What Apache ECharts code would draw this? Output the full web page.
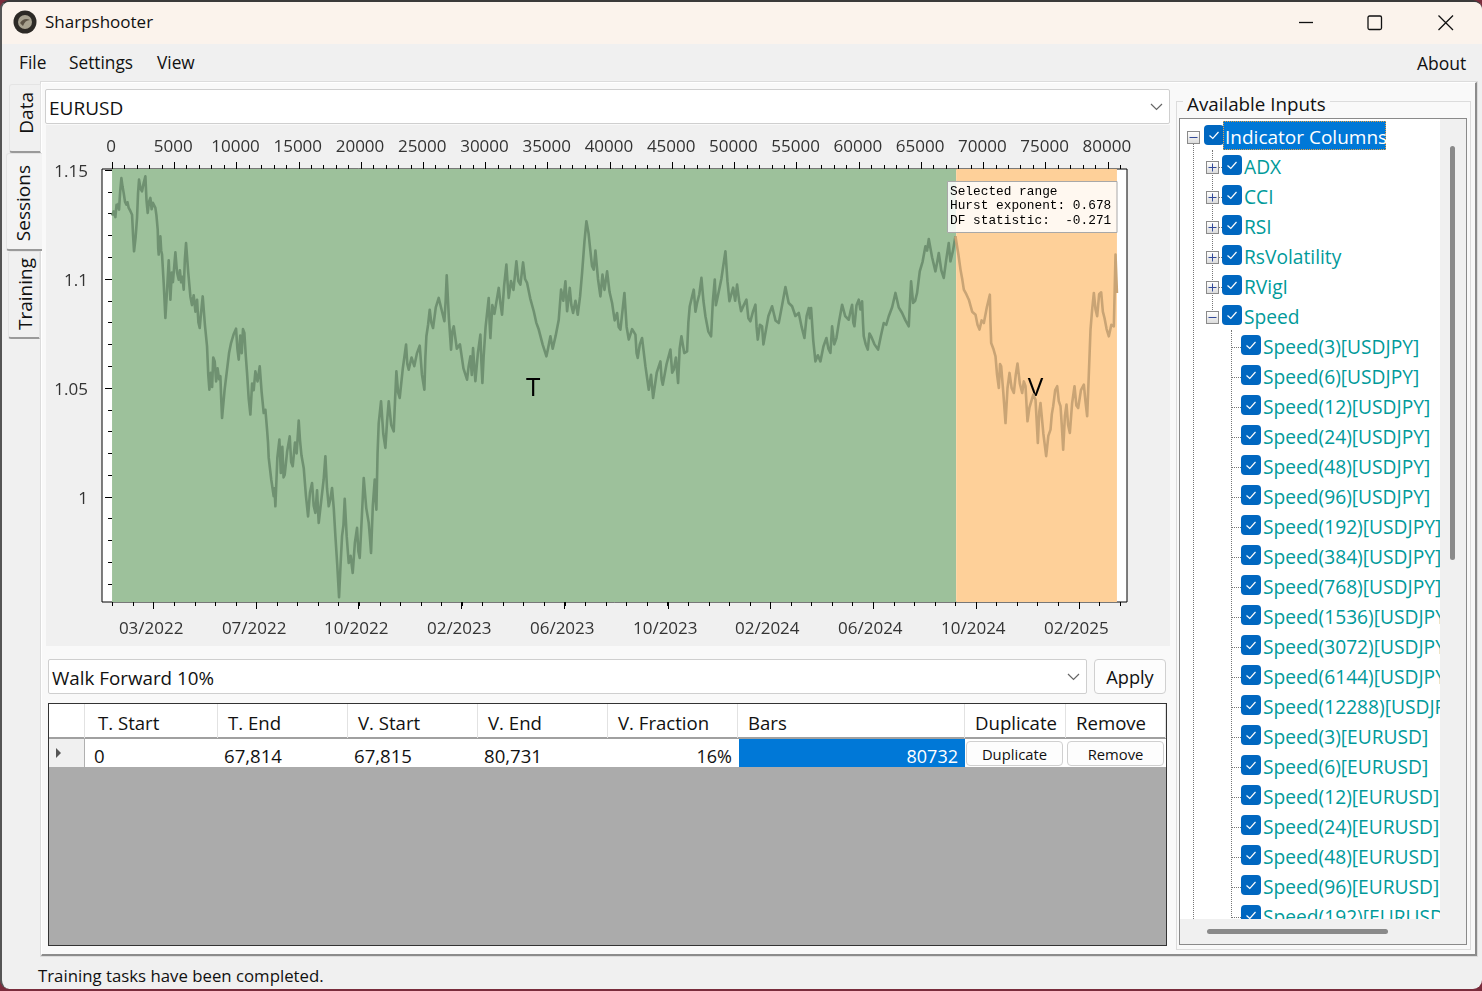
<!DOCTYPE html>
<html>
<head>
<meta charset="utf-8">
<title>Sharpshooter</title>
<script src="https://cdn.jsdelivr.net/npm/echarts@6/dist/echarts.min.js"></script>
<style>
  html, body { margin: 0; padding: 0; background: #7a2c3c; }
  body { width: 1482px; height: 991px; overflow: hidden; position: relative; font-family: "Open Sans", sans-serif; color: #111; }
  .box { position: absolute; box-sizing: border-box; }
  .t { position: absolute; white-space: nowrap; line-height: 30px; height: 30px; margin-top: -15px; }
  #win { left: 0; top: 0; width: 1482px; height: 989px; background: #f0f0f0; border-radius: 9px; border-top: 2px solid #3a3a3a; border-left: 2px solid #555; overflow: hidden; }
  .tab { background: #f0f0f0; border: 1px solid #e4e4e4; border-bottom: 2px solid #9a9a9a; border-radius: 3px 0 0 3px; }
  .vtext { position: absolute; writing-mode: vertical-rl; transform: rotate(180deg); font-size: 19px; white-space: nowrap; line-height: 24px; }
  .combo { background: #fff; border: 1px solid #cfcfcf; border-radius: 2px; }
  .btn { background: #fdfdfd; border: 1px solid #d0d0d0; border-radius: 4px; text-align: center; }
  .th { position: absolute; top: 0; height: 34px; line-height: 38px; font-size: 18.6px; box-sizing: border-box; padding-left: 10px; border-right: 1px solid #e2e2e2; }
  .td { position: absolute; top: 35px; height: 29px; line-height: 34px; font-size: 18.6px; box-sizing: border-box; }
  .chk { position: absolute; width: 20px; height: 20px; border-radius: 4px; background: #0067c0; }
  .exp { position: absolute; width: 11px; height: 11px; border: 1px solid #8a8a8a; background: linear-gradient(#fff, #dcdcdc); box-sizing: content-box; }
  .node { position: absolute; white-space: nowrap; font-size: 19.2px; line-height: 30px; height: 30px; color: #009a9a; }
  .dot-v { position: absolute; width: 0; border-left: 1px dotted #777; }
  .dot-h { position: absolute; height: 0; border-top: 1px dotted #777; }
</style>
</head>
<body>
<div id="win" class="box"></div>

<!-- title bar -->
<div class="box" style="left:2px;top:2px;width:1480px;height:42px;background:#fbf3ec;border-radius:8px 8px 0 0"></div>
<svg class="box" style="left:12px;top:9px" width="26" height="26"><circle cx="13" cy="13" r="11.5" fill="#2d2a26"/><circle cx="13" cy="13" r="7" fill="#a8a290"/><path d="M8 14 Q12 8 18 11 Q13 11 11 17 Z" fill="#5b5245"/></svg>
<div class="t" style="left:45px;top:22px;font-size:17px">Sharpshooter</div>
<svg class="box" style="left:1290px;top:8px" width="180" height="30" fill="none" stroke="#111" stroke-width="1.3">
  <path d="M9 14.5 H23"/><rect x="78" y="8" width="13.5" height="13.5" rx="1.5"/><path d="M148.5 7.5 L163 22 M163 7.5 L148.5 22"/>
</svg>

<!-- menu bar -->
<div class="t" style="left:19px;top:62.5px;font-size:17.3px">File</div>
<div class="t" style="left:69px;top:62.5px;font-size:17.3px">Settings</div>
<div class="t" style="left:157px;top:62.5px;font-size:17.3px">View</div>
<div class="t" style="left:1417px;top:62.5px;font-size:17.5px">About</div>

<!-- main panel -->
<div class="box" style="left:41px;top:82px;width:1436px;height:874px;background:#f9f9f9;border:1px solid #fff;border-right:2px solid #8c8c8c;border-bottom:2px solid #8c8c8c;outline:1px solid #dcdcdc"></div>

<!-- side tabs -->
<div class="box tab" style="left:9px;top:84px;width:32px;height:69px"></div>
<div class="box tab" style="left:6px;top:153px;width:36px;height:98px;background:#f3f3f3;border-right:none"></div>
<div class="box tab" style="left:8px;top:251px;width:32px;height:88px"></div>
<div class="vtext" style="left:14px;top:92px">Data</div>
<div class="vtext" style="left:11px;top:165px">Sessions</div>
<div class="vtext" style="left:13px;top:258px">Training</div>

<!-- symbol combo -->
<div class="box combo" style="left:45px;top:89px;width:1125px;height:35px"></div>
<div class="t" style="left:49px;top:108px;font-size:19px">EURUSD</div>
<svg class="box" style="left:1150px;top:102px" width="14" height="10" fill="none" stroke="#666" stroke-width="1.2"><path d="M1 2 L6.5 7.5 L12 2"/></svg>

<!-- chart -->
<div class="box" id="chart" style="left:46px;top:125px;width:1124px;height:521px;background:#f0f0f0"></div>

<!-- split scheme combo -->
<div class="box combo" style="left:48px;top:659px;width:1039px;height:35px"></div>
<div class="t" style="left:52px;top:678px;font-size:18.8px">Walk Forward 10%</div>
<svg class="box" style="left:1067px;top:672px" width="14" height="10" fill="none" stroke="#666" stroke-width="1.2"><path d="M1 2 L6.5 7.5 L12 2"/></svg>
<div class="box btn" style="left:1094px;top:659px;width:72px;height:35px;line-height:35px;font-size:18.2px">Apply</div>

<!-- splits table -->
<div class="box" id="table" style="left:48px;top:703px;width:1119px;height:243px;background:#ababab;border:1px solid #333"></div>

<!-- inputs tree -->
<div class="box" style="left:1176px;top:101px;width:295px;height:849px;border:1px solid #dcdcdc"></div>
<div class="t" style="left:1183px;top:104px;font-size:18.8px;background:#f9f9f9;padding:0 4px;height:20px;line-height:20px;margin-top:-10px">Available Inputs</div>
<div class="box" style="left:1179px;top:118px;width:288px;height:827px;border:1px solid #8a8a8a;background:#f0f0f0"></div>
<div class="box" id="tree" style="left:1180px;top:119px;width:260px;height:800px;background:#fff;overflow:hidden"></div>
<div class="box" style="left:1450px;top:146px;width:5px;height:414px;background:#8a8a8a;border-radius:3px"></div>
<div class="box" style="left:1207px;top:929px;width:181px;height:5px;background:#8a8a8a;border-radius:3px"></div>

<!-- status bar -->
<div class="t" style="left:38px;top:976px;font-size:16.8px">Training tasks have been completed.</div>

<script>
// [bar, close] samples of the EURUSD line
const closes = [
[0,1.1291],[130,1.1310],[268,1.1284],[360,1.1340],[455,1.1326],[510,1.1345],[562,1.1318],[650,1.1400],[750,1.1463],[840,1.1425],[937,1.1394],[1040,1.1355],[1152,1.1341],[1240,1.1352],[1339,1.1326],[1470,1.1312],[1607,1.1295],[1690,1.1200],[1767,1.1127],[1890,1.1190],[2008,1.1280],[2090,1.1395],[2169,1.1456],[2290,1.1415],[2410,1.1402],[2540,1.1440],[2678,1.1471],[2770,1.1360],[2865,1.1303],[2970,1.1355],[3080,1.1372],[3180,1.1320],[3280,1.1350],[3390,1.1345],[3481,1.1326],[3570,1.1290],[3669,1.1226],[3710,1.1140],[3749,1.1112],[3810,1.1180],[3883,1.1196],[3950,1.1130],[4017,1.1112],[4150,1.0980],[4285,1.0821],[4420,1.0950],[4553,1.1086],[4620,1.1000],[4686,1.0905],[4800,1.1030],[4890,1.0985],[5088,1.1122],[5220,1.1030],[5356,1.0997],[5450,1.1040],[5550,1.0985],[5650,1.1010],[5758,1.0951],[5850,1.1090],[5945,1.1165],[6120,1.1030],[6293,1.0920],[6420,1.0880],[6560,1.0925],[6700,1.0850],[6829,1.0905],[6940,1.0800],[7043,1.0775],[7160,1.0850],[7284,1.0920],[7460,1.0790],[7632,1.0691],[7730,1.0560],[7820,1.0492],[7930,1.0570],[8040,1.0505],[8130,1.0640],[8248,1.0622],[8360,1.0530],[8480,1.0590],[8600,1.0540],[8704,1.0554],[8770,1.0450],[8837,1.0362],[9040,1.0490],[9239,1.0584],[9400,1.0660],[9560,1.0706],[9760,1.0745],[9962,1.0772],[10070,1.0680],[10176,1.0630],[10300,1.0740],[10420,1.0660],[10520,1.0770],[10632,1.0752],[10740,1.0650],[10846,1.0569],[10980,1.0450],[11114,1.0378],[11250,1.0520],[11380,1.0490],[11515,1.0576],[11690,1.0530],[11864,1.0599],[12020,1.0480],[12185,1.0385],[12320,1.0400],[12453,1.0309],[12530,1.0250],[12587,1.0179],[12790,1.0080],[12988,1.0003],[13050,1.0040],[13122,0.9957],[13280,1.0180],[13444,1.0263],[13560,1.0110],[13680,1.0230],[13780,1.0090],[13872,1.0102],[14070,1.0210],[14274,1.0278],[14390,1.0160],[14515,1.0141],[14700,1.0250],[14830,1.0200],[14997,1.0350],[15100,1.0260],[15220,1.0190],[15399,1.0133],[15570,1.0010],[15747,0.9911],[15900,1.0020],[16068,1.0064],[16200,0.9960],[16336,0.9927],[16470,1.0030],[16604,0.9881],[16740,0.9950],[16871,0.9957],[17000,1.0080],[17139,1.0187],[17270,1.0040],[17407,0.9957],[17540,0.9990],[17675,1.0041],[17810,0.9950],[17943,0.9820],[18090,0.9690],[18237,0.9540],[18360,0.9690],[18478,0.9820],[18590,0.9870],[18692,0.9991],[18850,0.9820],[19014,0.9697],[19170,0.9730],[19335,0.9651],[19510,0.9790],[19683,0.9858],[19790,0.9750],[19898,0.9720],[20060,0.9900],[20219,1.0087],[20420,0.9950],[20621,0.9881],[20710,0.9820],[20808,0.9743],[20950,0.9960],[21103,1.0080],[21170,0.9990],[21237,0.9942],[21330,1.0200],[21424,1.0339],[21611,1.0439],[21790,1.0290],[21959,1.0225],[22100,1.0350],[22227,1.0439],[22430,1.0330],[22629,1.0301],[22740,1.0450],[22843,1.0576],[22980,1.0480],[23111,1.0454],[23360,1.0590],[23620,1.0699],[23720,1.0610],[23834,1.0584],[24060,1.0640],[24280,1.0600],[24500,1.0660],[24718,1.0694],[24900,1.0560],[25093,1.0492],[25170,1.0640],[25254,1.0737],[25390,1.0790],[25521,1.0859],[25650,1.0800],[25789,1.0775],[26010,1.0870],[26244,1.0913],[26470,1.0860],[26700,1.0806],[26800,1.0900],[26887,1.1017],[27060,1.0820],[27235,1.0676],[27340,1.0760],[27450,1.0783],[27700,1.0680],[27950,1.0700],[28230,1.0590],[28521,1.0538],[28650,1.0600],[28789,1.0645],[28900,1.0560],[29003,1.0683],[29100,1.0600],[29190,1.0531],[29390,1.0660],[29592,1.0745],[29670,1.0620],[29753,1.0523],[29850,1.0640],[30010,1.0780],[30261,1.0913],[30330,1.0800],[30395,1.0729],[30550,1.0880],[30720,1.0840],[31065,1.0959],[31200,1.0890],[31332,1.0836],[31500,1.0970],[31680,1.1066],[31780,1.0980],[31868,1.0913],[32050,1.0990],[32250,1.0950],[32484,1.1081],[32640,1.0990],[32805,1.0974],[33022,1.1076],[33180,1.1000],[33343,1.0982],[33600,1.0910],[33879,1.0852],[34080,1.0800],[34281,1.0768],[34590,1.0700],[34897,1.0645],[35060,1.0690],[35218,1.0737],[35400,1.0680],[35640,1.0740],[35887,1.0813],[36075,1.0951],[36250,1.0900],[36423,1.0989],[36557,1.0852],[36771,1.0959],[36900,1.0880],[37039,1.0844],[37230,1.0900],[37414,1.0836],[37600,1.0920],[37762,1.1028],[37950,1.1170],[38110,1.1265],[38280,1.1210],[38432,1.1127],[38560,1.1060],[38699,1.1043],[38833,1.1131],[39040,1.1000],[39235,1.0920],[39400,1.1020],[39560,1.0950],[39771,1.1035],[39970,1.0940],[40172,1.0890],[40380,1.0810],[40574,1.0844],[40700,1.0780],[40842,1.0768],[41000,1.0850],[41163,1.0936],[41340,1.0780],[41511,1.0722],[41780,1.0770],[42047,1.0745],[42140,1.0660],[42234,1.0638],[42400,1.0700],[42582,1.0729],[42850,1.0600],[43118,1.0492],[43300,1.0560],[43466,1.0454],[43760,1.0570],[44055,1.0622],[44150,1.0540],[44243,1.0515],[44550,1.0610],[44859,1.0676],[45000,1.0570],[45127,1.0584],[45300,1.0640],[45475,1.0523],[45600,1.0680],[45743,1.0737],[45970,1.0660],[46198,1.0668],[46300,1.0800],[46412,1.0875],[46570,1.0870],[46733,1.0951],[46870,1.0850],[47001,1.0890],[47180,1.0930],[47349,1.1005],[47510,1.0900],[47671,1.0829],[47900,1.0760],[48126,1.0737],[48270,1.0900],[48421,1.0997],[48510,1.0880],[48608,1.0905],[48950,1.1000],[49278,1.1127],[49440,1.0990],[49599,1.0898],[49900,1.0960],[50060,1.0900],[50215,1.0974],[50380,1.0900],[50536,1.0852],[50750,1.0880],[50965,1.0905],[51120,1.0820],[51286,1.0806],[51490,1.0850],[51688,1.0882],[51780,1.0780],[51875,1.0722],[52050,1.0790],[52223,1.0783],[52330,1.0700],[52437,1.0706],[52730,1.0830],[53027,1.0875],[53300,1.0810],[53562,1.0798],[53830,1.0880],[54098,1.0963],[54360,1.0890],[54633,1.0875],[54900,1.0830],[55169,1.0844],[55400,1.0780],[55624,1.0729],[55800,1.0830],[55973,1.0867],[56060,1.0820],[56160,1.0867],[56330,1.0720],[56508,1.0622],[56700,1.0650],[56910,1.0622],[57150,1.0690],[57392,1.0729],[57550,1.0680],[57713,1.0661],[57847,1.0783],[58020,1.0700],[58195,1.0729],[58420,1.0810],[58651,1.0882],[58900,1.0830],[59186,1.0813],[59320,1.0850],[59454,1.0882],[59550,1.0800],[59642,1.0783],[59810,1.0880],[59990,1.0905],[60120,1.0860],[60257,1.0898],[60330,1.0800],[60391,1.0737],[60550,1.0700],[60713,1.0676],[60850,1.0750],[60981,1.0737],[61250,1.0700],[61543,1.0676],[61770,1.0740],[61998,1.0798],[62200,1.0790],[62400,1.0829],[62670,1.0870],[62936,1.0936],[63200,1.0870],[63471,1.0844],[63740,1.0810],[64007,1.0783],[64100,1.0890],[64194,1.0989],[64355,1.0890],[64520,1.0900],[64676,1.0936],[64890,1.1035],[65120,1.1080],[65345,1.1150],[65480,1.1130],[65613,1.1183],[65880,1.1100],[66149,1.1035],[66300,1.1080],[66417,1.1119],[66620,1.1040],[66818,1.1005],[67020,1.1090],[67220,1.1165],[67354,1.1081],[67560,1.1130],[67756,1.1196],
[67842,1.1196],[68000,1.1110],[68163,1.1043],[68300,1.1000],[68431,1.0951],[68630,1.0930],[68833,1.0905],[69100,1.0850],[69369,1.0836],[69530,1.0790],[69690,1.0768],[69860,1.0810],[70038,1.0798],[70280,1.0870],[70520,1.0928],[70570,1.0800],[70627,1.0706],[70800,1.0680],[70975,1.0645],[71100,1.0560],[71243,1.0500],[71340,1.0610],[71431,1.0599],[71600,1.0480],[71779,1.0339],[71940,1.0500],[72100,1.0569],[72270,1.0500],[72448,1.0477],[72600,1.0560],[72743,1.0612],[72930,1.0520],[73118,1.0477],[73250,1.0530],[73386,1.0508],[73470,1.0420],[73546,1.0347],[73700,1.0410],[73841,1.0401],[74010,1.0470],[74189,1.0446],[74290,1.0340],[74376,1.0248],[74490,1.0390],[74591,1.0431],[74820,1.0290],[75046,1.0187],[75220,1.0280],[75394,1.0309],[75500,1.0380],[75608,1.0416],[75770,1.0490],[75930,1.0508],[76060,1.0440],[76198,1.0416],[76310,1.0320],[76412,1.0217],[76550,1.0370],[76680,1.0424],[76810,1.0330],[76947,1.0294],[77130,1.0430],[77322,1.0508],[77470,1.0420],[77617,1.0408],[77840,1.0490],[78072,1.0515],[78200,1.0440],[78340,1.0370],[78470,1.0560],[78608,1.0768],[78740,1.0860],[78876,1.0936],[79010,1.0860],[79143,1.0829],[79300,1.0930],[79465,1.0939],[79600,1.0850],[79732,1.0821],[79900,1.0770],[80080,1.0737],[80280,1.0790],[80482,1.0783],[80550,1.0950],[80616,1.1112],[80731,1.0936]
];

const trainRange = [0, 67814];
const validRange = [67815, 80731];

const barTicks = [0,5000,10000,15000,20000,25000,30000,35000,40000,45000,50000,55000,60000,65000,70000,75000,80000];
const priceTicks = [1, 1.05, 1.1, 1.15];
const dateTicks = [3343,11619,19815,28092,36368,44644,52840,61117,69393,77669];
const dateLabels = ['03/2022','07/2022','10/2022','02/2023','06/2023','10/2023','02/2024','06/2024','10/2024','02/2025'];

const barMin = -807, barMax = 81539;
const priceMin = 0.9518, priceMax = 1.15046;

// minor ticks, the plot has 5 subdivisions between labelled ticks
const minorBars = [];
barTicks.forEach(v => { for (let i = 1; i < 5; i++) if (v + i * 1000 < barMax) minorBars.push(v + i * 1000); });
const minorPrices = [0.96,0.97,0.98,0.99,1.01,1.02,1.03,1.04,1.06,1.07,1.08,1.09,1.11,1.12,1.13,1.14];
const minorDates = [];
const dateStep = (dateTicks[9] - dateTicks[0]) / 45;
for (let v = dateTicks[0] - 2 * dateStep; v < barMax; v += dateStep) minorDates.push(Math.round(v));

const axisLine = { show: false };
const black = { color: '#000', width: 1 };
const labelStyle = { color: '#333', fontFamily: 'Open Sans', fontSize: 17 };

const chart = echarts.init(document.getElementById('chart'));

const trainLine = [], validLine = [];
closes.forEach(c => {
  if (c[0] <= trainRange[1]) trainLine.push(c);
  else {
    if (!validLine.length) validLine.push(trainLine[trainLine.length - 1]);
    validLine.push(c);
  }
});

const rangeLabel = text => ({
  show: true, position: 'inside', formatter: text, color: '#000', fontFamily: 'Open Sans', fontSize: 26, offset: [-1, 3]
});

chart.setOption({
  animation: false,
  grid: { left: 56, top: 44, width: 1025, height: 433, show: true, backgroundColor: '#fff', borderColor: '#000', borderWidth: 1 },
  xAxis: [
    { type: 'value', position: 'bottom', min: barMin, max: barMax, splitLine: { show: false }, axisLine,
      axisTick: { customValues: dateTicks, length: 7, lineStyle: black },
      axisLabel: { customValues: dateTicks, margin: 19, padding: [0, 5, 0, 0], ...labelStyle, formatter: v => dateLabels[dateTicks.indexOf(v)] } },
    { type: 'value', position: 'bottom', min: barMin, max: barMax, splitLine: { show: false }, axisLine,
      axisTick: { customValues: minorDates, length: 4, lineStyle: black }, axisLabel: { show: false } },
    { type: 'value', position: 'top', min: barMin, max: barMax, splitLine: { show: false }, axisLine,
      axisTick: { customValues: barTicks, length: 7, lineStyle: black },
      axisLabel: { customValues: barTicks, margin: 13, padding: [0, 2, 0, 0], ...labelStyle, formatter: v => String(v) } },
    { type: 'value', position: 'top', min: barMin, max: barMax, splitLine: { show: false }, axisLine,
      axisTick: { customValues: minorBars, length: 4, lineStyle: black }, axisLabel: { show: false } }
  ],
  yAxis: [
    { type: 'value', position: 'left', min: priceMin, max: priceMax, splitLine: { show: false }, axisLine,
      axisTick: { customValues: priceTicks, length: 7, lineStyle: black },
      axisLabel: { customValues: priceTicks, margin: 14, verticalAlign: 'top', lineHeight: 5, ...labelStyle } },
    { type: 'value', position: 'left', min: priceMin, max: priceMax, splitLine: { show: false }, axisLine,
      axisTick: { customValues: minorPrices, length: 4, lineStyle: black }, axisLabel: { show: false } }
  ],
  series: [
    { type: 'line', name: 'Train', data: trainLine, showSymbol: false, silent: true,
      lineStyle: { color: '#6f9171', width: 2.6, join: 'round' },
      markArea: { silent: true, itemStyle: { color: '#9dc19b', opacity: 1 }, label: rangeLabel('T'),
        data: [[{ xAxis: trainRange[0] }, { xAxis: trainRange[1] }]] } },
    { type: 'line', name: 'Validation', data: validLine, showSymbol: false, silent: true,
      lineStyle: { color: '#c9a475', width: 2.6, join: 'round' },
      markArea: { silent: true, itemStyle: { color: '#fed099', opacity: 1 }, label: rangeLabel('V'),
        data: [[{ xAxis: validRange[0] }, { xAxis: validRange[1] }]] } }
  ],
  graphic: [
    { type: 'rect', left: 901, top: 56, z: 100, shape: { width: 169.5, height: 51 },
      style: { fill: 'rgba(255,255,255,0.85)', stroke: '#a8a8a8', lineWidth: 1 } },
    { type: 'text', left: 904, top: 59, z: 101, style: { text: 'Selected range\nHurst exponent: 0.678\nDF statistic:  -0.271',
      font: '12.8px "Liberation Mono"', lineHeight: 14.7, fill: '#000' } }
  ]
});

// table and tree are plain DOM
const table = document.getElementById('table');
const columns = [['', 0, 36], ['T. Start', 36, 133], ['T. End', 169, 130], ['V. Start', 299, 130], ['V. End', 429, 130], ['V. Fraction', 559, 130], ['Bars', 689, 227], ['Duplicate', 916, 101], ['Remove', 1017, 100]];
const rowValues = [['0', 45], ['67,814', 175], ['67,815', 305], ['80,731', 435]];
let html = '<div class="box" style="left:0;top:0;width:1117px;height:63px;background:#fff"></div>';
html += '<div class="box" style="left:0;top:33px;width:1117px;height:2px;background:#a0a0a0"></div>';
columns.forEach((c, i) => { html += `<div class="th" style="left:${c[1]}px;width:${c[2]}px;${i === 1 ? 'padding-left:13px' : ''}">${c[0]}</div>`; });
html += '<div class="box" style="left:35px;top:34px;width:1px;height:29px;background:#b0b0b0"></div>';
html += '<div class="box" style="left:0;top:35px;width:35px;height:28px;background:#f0f0f0"></div>';
html += '<svg class="box" style="left:6px;top:44px" width="8" height="10"><path d="M1 0 L6 5 L1 10 Z" fill="#555"/></svg>';
rowValues.forEach(r => { html += `<div class="td" style="left:${r[1]}px">${r[0]}</div>`; });
html += '<div class="td" style="left:559px;width:124px;text-align:right;font-size:18px">16%</div>';
html += '<div class="td" style="left:690px;width:226px;background:#0078d7;color:#fff;text-align:right;padding-right:7px;height:28px;font-size:18px">80732</div>';
html += '<div class="box btn" style="left:917px;top:37px;width:97px;height:25px;line-height:25px;font-size:14.8px">Duplicate</div>';
html += '<div class="box btn" style="left:1018px;top:37px;width:97px;height:25px;line-height:25px;font-size:14.8px">Remove</div>';
table.innerHTML = html;

const tree = document.getElementById('tree');
const indicators = ['ADX', 'CCI', 'RSI', 'RsVolatility', 'RVigI'];
const speedPeriods = [3, 6, 12, 24, 48, 96, 192, 384, 768, 1536, 3072, 6144, 12288];
const speedPeriodsEur = [3, 6, 12, 24, 48, 96, 192];
const check = (x, y) => `<div class="chk" style="left:${x}px;top:${y - 11}px"><svg width="20" height="20" fill="none" stroke="#fff" stroke-width="1.2"><path d="M5.5 10.5 L8.8 13.5 L14.5 7"/></svg></div>`;
const expander = (x, y, plus) => `<div class="exp" style="left:${x - 6}px;top:${y - 6}px"><svg style="display:block" width="11" height="11" stroke="#334a99" stroke-width="1"><path d="M1.5 5.5 H9.5${plus ? ' M5.5 1.5 V9.5' : ''}"/></svg></div>`;
const node = (x, y, text, extra) => `<div class="node" style="left:${x}px;top:${y - 15}px;${extra || ''}">${text}</div>`;
let t = '';
const oy = -119, ox = -1180;
t += `<div class="dot-v" style="left:${1193 + ox}px;top:${143 + oy}px;height:800px"></div>`;
t += `<div class="dot-v" style="left:${1212 + ox}px;top:${150 + oy}px;height:160px"></div>`;
t += `<div class="dot-v" style="left:${1231 + ox}px;top:${330 + oy}px;height:600px"></div>`;
t += expander(1193 + ox, 137 + oy, false) + check(1204 + ox, 136 + oy);
t += `<div class="box" style="left:${1223 + ox}px;top:${121 + oy}px;width:163px;height:29px;background:#0078d7;outline:1px dotted #e8a040;outline-offset:-1px"></div>`;
t += node(1225 + ox, 137 + oy, 'Indicator Columns', 'color:#fff;font-size:19px');
let y = 167;
indicators.forEach(name => {
  t += `<div class="dot-h" style="left:${1212 + ox}px;top:${y + oy}px;width:10px"></div>`;
  t += expander(1212 + ox, y + oy, true) + check(1222 + ox, y - 1 + oy) + node(1244 + ox, y + oy, name);
  y += 30;
});
t += expander(1212 + ox, y + oy, false) + check(1222 + ox, y - 1 + oy) + node(1244 + ox, y + oy, 'Speed');
y += 30;
const leaf = text => {
  t += `<div class="dot-h" style="left:${1231 + ox}px;top:${y + oy}px;width:10px"></div>`;
  t += check(1241 + ox, y - 1 + oy) + node(1263 + ox, y + oy, text);
  y += 30;
};
speedPeriods.forEach(p => leaf(`Speed(${p})[USDJPY]`));
speedPeriodsEur.forEach(p => leaf(`Speed(${p})[EURUSD]`));
tree.innerHTML = t;
</script>
</body>
</html>
